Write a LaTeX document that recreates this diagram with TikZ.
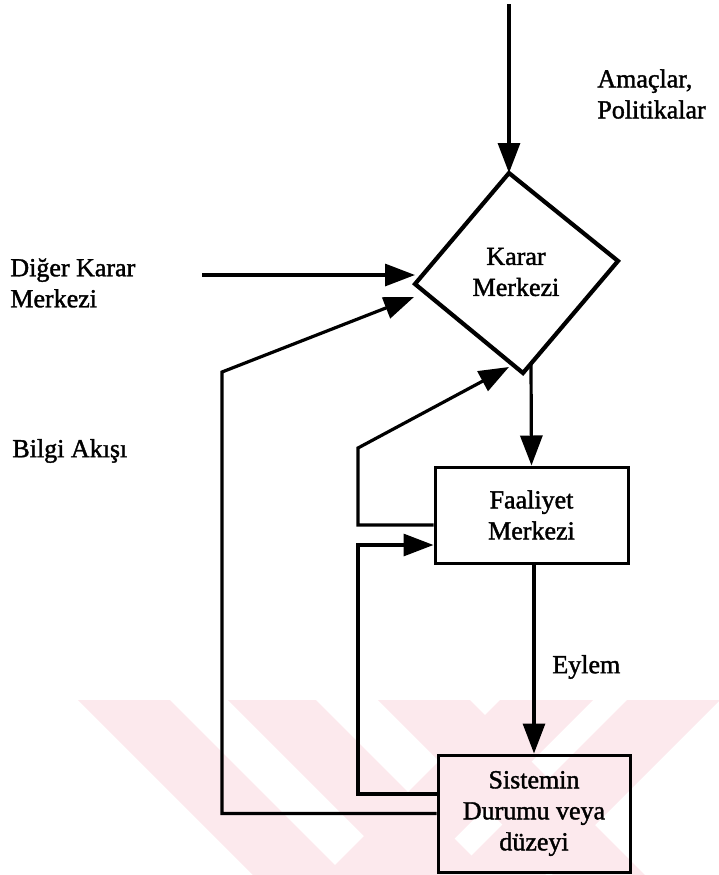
\documentclass[tikz,border=0pt]{standalone}
\usepackage{fontspec}
\setmainfont[FakeBold=1.5]{Liberation Serif}
\usetikzlibrary{arrows.meta}
\definecolor{wmpink}{RGB}{252,233,237}
\begin{document}
\begin{tikzpicture}[x=0.5pt,y=-0.5pt,
  txt/.style={font=\fontsize{13}{15.5}\selectfont, inner sep=0pt},
  lbl/.style={txt, align=left, anchor=west},
  boxnode/.style={txt, draw, line width=1.5pt, align=center},
  wire/.style={line width=1.6pt, line join=miter},
  flow/.style={wire, -{Triangle[length=15pt,width=11pt]}},
  band/.style={fill=wmpink, draw=none}]
\useasboundingbox (0,0) rectangle (719,875);

% faint background emblem in the lower part
\begin{scope}
  \clip (0,700) rectangle (719,875);
  \fill[band] (78,700) -- (170,700) -- (345,875) -- (253,875) -- cycle;
  \fill[band] (228,700) -- (316,700) -- (491,875) -- (403,875) -- cycle;
  \fill[band] (378,700) -- (470,700) -- (645,875) -- (553,875) -- cycle;
  \fill[band] (500,700) -- (593,700) -- (418,875) -- (325,875) -- cycle;
  \fill[band] (627,700) -- (720,700) -- (545,875) -- (452,875) -- cycle;
\end{scope}

% decision centre (diamond)
\coordinate (dT) at (509,173);
\coordinate (dR) at (618,261);
\coordinate (dB) at (523,373);
\coordinate (dL) at (415,284);
\draw[line width=2.1pt, line join=miter] (dT) -- (dR) -- (dB) -- (dL) -- cycle;
\node[txt, align=center] (karar) at (516,272) {Karar\\Merkezi};

% activity centre and system state
\node[boxnode, minimum width=96.5pt, minimum height=48pt] (faal) at (531.5,515) {Faaliyet\\Merkezi};
\node[boxnode, minimum width=96pt, minimum height=58.5pt] (sys) at (534,813.5) {Sistemin\\Durumu veya\\düzeyi};

% labels
\node[lbl] (amac) at (597,94) {Amaçlar,\\Politikalar};
\node[lbl] (diger) at (10,283) {Diğer Karar\\Merkezi};
\node[lbl] (bilgi) at (12,451) {Bilgi Akışı};
\node[lbl] (eylem) at (552,667) {Eylem};

% connector end points
\coordinate (topIn) at (509,4);
\coordinate (digerOut) at (202,275);
\coordinate (dInA) at (415,275);
\coordinate (c1) at (222,372);
\coordinate (dInB) at (414,297);
\coordinate (c2) at (358,545);
\coordinate (c3) at (358,448);
\coordinate (dInC) at (509,367);
\coordinate (dOut) at (531,364);
\coordinate (s2) at ([yshift=9.75pt]sys.west);
\coordinate (f2) at ([yshift=-5pt]faal.west);

% flows
\draw[flow] (topIn) -- (dT);
\draw[flow] (digerOut) -- (dInA);
\draw[flow] (dOut) -- (faal.north);
\draw[flow] (faal.south -| sys.north) -- (sys.north);

% information feedback
\draw[flow] (sys.west) -- (sys.west -| c1) -- (c1) -- (dInB);
\draw[flow] (s2) -- (s2 -| c2) -- (c2) -- (faal.west |- c2);
\draw[flow] (f2) -- (f2 -| c3) -- (c3) -- (dInC);
\end{tikzpicture}
\end{document}
